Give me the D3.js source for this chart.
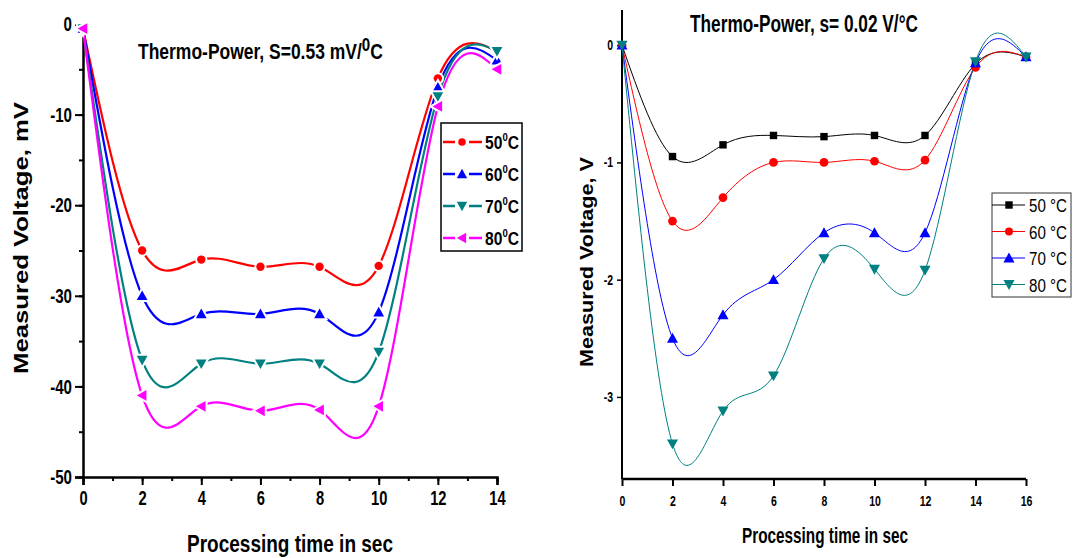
<!DOCTYPE html>
<html>
<head>
<meta charset="utf-8">
<script src="https://cdn.jsdelivr.net/npm/d3@7"></script>
<style>
body { margin: 0; background: #fff; }
svg text { fill: #000; }
</style>
</head>
<body>
<div id="chart"></div>
<script>
// ---- data, left panel (mV) ----
var timeA = [0, 2, 4, 6, 8, 10, 12, 14];
var mv50 = [-0.5, -25, -26, -26.8, -26.8, -26.7, -6, -3];
var mv60 = [-0.5, -30, -32, -32, -32, -31.8, -7, -4];
var mv70 = [-0.5, -37.1, -37.5, -37.5, -37.5, -36.2, -8, -3];
var mv80 = [-0.5, -41, -42.2, -42.7, -42.6, -42.2, -9.1, -5];
var xTicksA = [0, 2, 4, 6, 8, 10, 12, 14];
var yTicksA = [0, -10, -20, -30, -40, -50];

// ---- data, right panel (V) ----
var timeB = [0, 2, 4, 6, 8, 10, 12, 14, 16];
var v50 = [0, -0.95, -0.85, -0.77, -0.78, -0.77, -0.77, -0.16, -0.1];
var v60 = [0, -1.5, -1.3, -1.0, -1.0, -0.99, -0.98, -0.19, -0.1];
var v70 = [0, -2.5, -2.3, -2.0, -1.6, -1.6, -1.6, -0.15, -0.1];
var v80 = [0, -3.4, -3.12, -2.82, -1.82, -1.91, -1.92, -0.14, -0.1];
var xTicksB = [0, 2, 4, 6, 8, 10, 12, 14, 16];
var yTicksB = [0, -1, -2, -3];

var labels = ["50", "60", "70", "80"];

var svg = d3.select("#chart").append("svg")
	.attr("width", 1074)
	.attr("height", 558);

var arial = "'Liberation Sans', Arial, sans-serif";

// squeeze text horizontally, no narrow font installed
function condense(sel, f) {
	sel.each(function() {
		var w = this.getComputedTextLength();
		d3.select(this).attr("textLength", w * f).attr("lengthAdjust", "spacingAndGlyphs");
	});
}
// squeeze a whole text (with tspans) to a given width using scale
function squeezeTo(t, x, y, width) {
	var w = t.node().getBBox().width;
	t.attr("transform", "translate(" + x + "," + y + ") scale(" + (width / w) + ",1)");
}
function hy(d) { return String(d).replace("\u2212", "-"); }

// =================== left chart ===================
var xA = d3.scaleLinear().domain([0, 14]).range([83, 497]);
var yA = d3.scaleLinear().domain([-50, 0]).range([477, 24]);

var gA = svg.append("g");

// axes
gA.append("g")
	.attr("transform", "translate(0,477)")
	.call(d3.axisBottom(xA).tickValues(d3.range(0, 15, 1)).tickSize(4).tickFormat(""))
	.call(function(g) { g.select(".domain").remove(); g.selectAll("line").attr("stroke-width", 2); });
gA.append("g")
	.attr("transform", "translate(0,477)")
	.call(d3.axisBottom(xA).tickValues(xTicksA).tickSize(8).tickPadding(5))
	.call(function(g) {
		g.select(".domain").attr("stroke-width", 2.5);
		g.selectAll("line").attr("stroke-width", 2);
		g.selectAll("text").attr("font-family", arial).attr("font-weight", "bold").attr("font-size", 21)
			.call(condense, 0.7);
	});
gA.append("g")
	.attr("transform", "translate(83,0)")
	.call(d3.axisLeft(yA).tickValues(d3.range(-50, 1, 5)).tickSize(4).tickFormat(""))
	.call(function(g) { g.select(".domain").remove(); g.selectAll("line").attr("stroke-width", 2); });
gA.append("g")
	.attr("transform", "translate(83,0)")
	.call(d3.axisLeft(yA).tickValues(yTicksA).tickSize(8).tickPadding(3).tickFormat(hy))
	.call(function(g) {
		g.select(".domain").attr("stroke-width", 2.5);
		g.selectAll("line").attr("stroke-width", 2);
		g.selectAll("text").attr("font-family", arial).attr("font-weight", "bold").attr("font-size", 21)
			.call(condense, 0.72);
	});

var seriesA = [
	{ v: mv50, color: "#ff0000", sym: "circle" },
	{ v: mv60, color: "#0000ff", sym: "up" },
	{ v: mv70, color: "#008080", sym: "down" },
	{ v: mv80, color: "#ff00ff", sym: "left" }
];

function symPath(kind, s) {
	if (kind == "circle") return d3.symbol().type(d3.symbolCircle).size(s)();
	if (kind == "square") return d3.symbol().type(d3.symbolSquare).size(s)();
	var r = Math.sqrt(s) * 0.62;
	if (kind == "up") return "M0," + (-r) + "L" + r + "," + (r * 0.8) + "L" + (-r) + "," + (r * 0.8) + "Z";
	if (kind == "down") return "M0," + r + "L" + r + "," + (-r * 0.8) + "L" + (-r) + "," + (-r * 0.8) + "Z";
	if (kind == "left") return "M" + (-r) + ",0L" + (r * 0.8) + "," + (-r) + "L" + (r * 0.8) + "," + r + "Z";
}

var lineA = d3.line().curve(d3.curveNatural)
	.x(function(d) { return xA(d[0]); })
	.y(function(d) { return yA(d[1]); });

seriesA.forEach(function(s) {
	var pts = timeA.map(function(t, i) { return [t, s.v[i]]; });
	gA.append("path")
		.attr("d", lineA(pts))
		.attr("fill", "none")
		.attr("stroke", s.color)
		.attr("stroke-width", 2.2);
});
seriesA.forEach(function(s) {
	var pts = timeA.map(function(t, i) { return [t, s.v[i]]; });
	gA.selectAll(null).data(pts).enter().append("path")
		.attr("transform", function(d) { return "translate(" + xA(d[0]) + "," + yA(d[1]) + ")"; })
		.attr("d", symPath(s.sym, s.sym == "circle" ? 55 : 75))
		.attr("fill", s.color)
		.attr("stroke", "#fff")
		.attr("stroke-width", 4)
		.attr("paint-order", "stroke");
});

// title
var tA = gA.append("text")
	.attr("font-family", arial).attr("font-weight", "bold").attr("font-size", 22);
tA.append("tspan").text("Thermo-Power, S=0.53 mV/");
tA.append("tspan").attr("dy", -8).attr("font-size", 19).text("0");
tA.append("tspan").attr("dy", 8).text("C");
squeezeTo(tA, 138, 59, 245);

// axis titles
gA.append("text")
	.attr("x", 290).attr("y", 552)
	.attr("text-anchor", "middle")
	.attr("font-family", arial).attr("font-weight", "bold").attr("font-size", 23)
	.attr("textLength", 206).attr("lengthAdjust", "spacingAndGlyphs")
	.text("Processing time in sec");
gA.append("text")
	.attr("transform", "translate(28,238) rotate(-90)")
	.attr("text-anchor", "middle")
	.attr("font-family", arial).attr("font-weight", "bold").attr("font-size", 20)
	.attr("textLength", 272).attr("lengthAdjust", "spacingAndGlyphs")
	.text("Measured Voltage, mV");

// legend
var legA = gA.append("g");
legA.append("rect")
	.attr("x", 441).attr("y", 123).attr("width", 81).attr("height", 128)
	.attr("fill", "#fff").attr("stroke", "#000").attr("stroke-width", 1.5);
seriesA.forEach(function(s, i) {
	var y = 142 + i * 32;
	legA.append("line").attr("x1", 443).attr("x2", 455).attr("y1", y).attr("y2", y)
		.attr("stroke", s.color).attr("stroke-width", 2.5);
	legA.append("line").attr("x1", 469).attr("x2", 482).attr("y1", y).attr("y2", y)
		.attr("stroke", s.color).attr("stroke-width", 2.5);
	legA.append("path").attr("transform", "translate(462," + y + ")")
		.attr("d", symPath(s.sym, s.sym == "circle" ? 45 : 70)).attr("fill", s.color);
	var t = legA.append("text")
		.attr("font-family", arial).attr("font-weight", "bold").attr("font-size", 18);
	t.append("tspan").text(labels[i]);
	t.append("tspan").attr("dy", -8).attr("font-size", 11).text("0");
	t.append("tspan").attr("dy", 8).text("C");
	squeezeTo(t, 485, y + 7, 34);
});

// =================== right chart ===================
var xB = d3.scaleLinear().domain([0, 16]).range([622, 1026]);
var yB = d3.scaleLinear().domain([-3.7, 0.3]).range([479, 10]);

var gB = svg.append("g");
gB.append("g")
	.attr("transform", "translate(0,479)")
	.call(d3.axisBottom(xB).tickValues(xTicksB).tickSize(7).tickPadding(10))
	.call(function(g) {
		g.select(".domain").attr("stroke-width", 2.5).attr("d", "M622,0H1026");
		g.selectAll("line").attr("stroke-width", 2);
		g.selectAll("text").attr("font-family", arial).attr("font-weight", "bold").attr("font-size", 14)
			.call(condense, 0.75);
	});
gB.append("g")
	.attr("transform", "translate(622,0)")
	.call(d3.axisLeft(yB).tickValues(yTicksB).tickSize(5).tickPadding(4).tickFormat(hy))
	.call(function(g) {
		g.select(".domain").attr("stroke-width", 2).attr("d", "M0,10V479");
		g.selectAll("line").attr("stroke-width", 1.5);
		g.selectAll("text").attr("font-family", arial).attr("font-weight", "bold").attr("font-size", 14)
			.call(condense, 0.75);
	});

var seriesB = [
	{ v: v50, color: "#000000", sym: "square" },
	{ v: v60, color: "#ff0000", sym: "circle" },
	{ v: v70, color: "#0000ff", sym: "up" },
	{ v: v80, color: "#008080", sym: "down" }
];
var lineB = d3.line().curve(d3.curveNatural)
	.x(function(d) { return xB(d[0]); })
	.y(function(d) { return yB(d[1]); });

seriesB.forEach(function(s) {
	var pts = timeB.map(function(t, i) { return [t, s.v[i]]; });
	gB.append("path")
		.attr("d", lineB(pts))
		.attr("fill", "none")
		.attr("stroke", s.color)
		.attr("stroke-width", 1);
});
seriesB.forEach(function(s) {
	var pts = timeB.map(function(t, i) { return [t, s.v[i]]; });
	gB.selectAll(null).data(pts).enter().append("path")
		.attr("transform", function(d) { return "translate(" + xB(d[0]) + "," + yB(d[1]) + ")"; })
		.attr("d", symPath(s.sym, s.sym == "square" ? 55 : s.sym == "circle" ? 60 : 80))
		.attr("fill", s.color);
});

gB.append("text")
	.attr("x", 690).attr("y", 32)
	.attr("font-family", arial).attr("font-weight", "bold").attr("font-size", 23)
	.attr("textLength", 228).attr("lengthAdjust", "spacingAndGlyphs")
	.text("Thermo-Power, s= 0.02 V/°C");

gB.append("text")
	.attr("x", 825).attr("y", 543)
	.attr("text-anchor", "middle")
	.attr("font-family", arial).attr("font-weight", "bold").attr("font-size", 22)
	.attr("textLength", 166).attr("lengthAdjust", "spacingAndGlyphs")
	.text("Processing time in sec");
gB.append("text")
	.attr("transform", "translate(593,262) rotate(-90)")
	.attr("text-anchor", "middle")
	.attr("font-family", arial).attr("font-weight", "bold").attr("font-size", 19)
	.attr("textLength", 210).attr("lengthAdjust", "spacingAndGlyphs")
	.text("Measured Voltage, V");

var legB = gB.append("g");
legB.append("rect")
	.attr("x", 992).attr("y", 193).attr("width", 79).attr("height", 104)
	.attr("fill", "#fff").attr("stroke", "#333").attr("stroke-width", 1);
seriesB.forEach(function(s, i) {
	var y = 205 + i * 26.5;
	legB.append("line").attr("x1", 992).attr("x2", 1025).attr("y1", y).attr("y2", y)
		.attr("stroke", s.color).attr("stroke-width", 1.2);
	legB.append("path").attr("transform", "translate(1009," + y + ")")
		.attr("d", symPath(s.sym, s.sym == "square" ? 55 : s.sym == "circle" ? 50 : 80)).attr("fill", s.color);
	var t = legB.append("text")
		.attr("font-family", arial).attr("font-size", 19)
		.text(labels[i] + " °C");
	squeezeTo(t, 1029, y + 7, 38);
});
</script>
</body>
</html>
